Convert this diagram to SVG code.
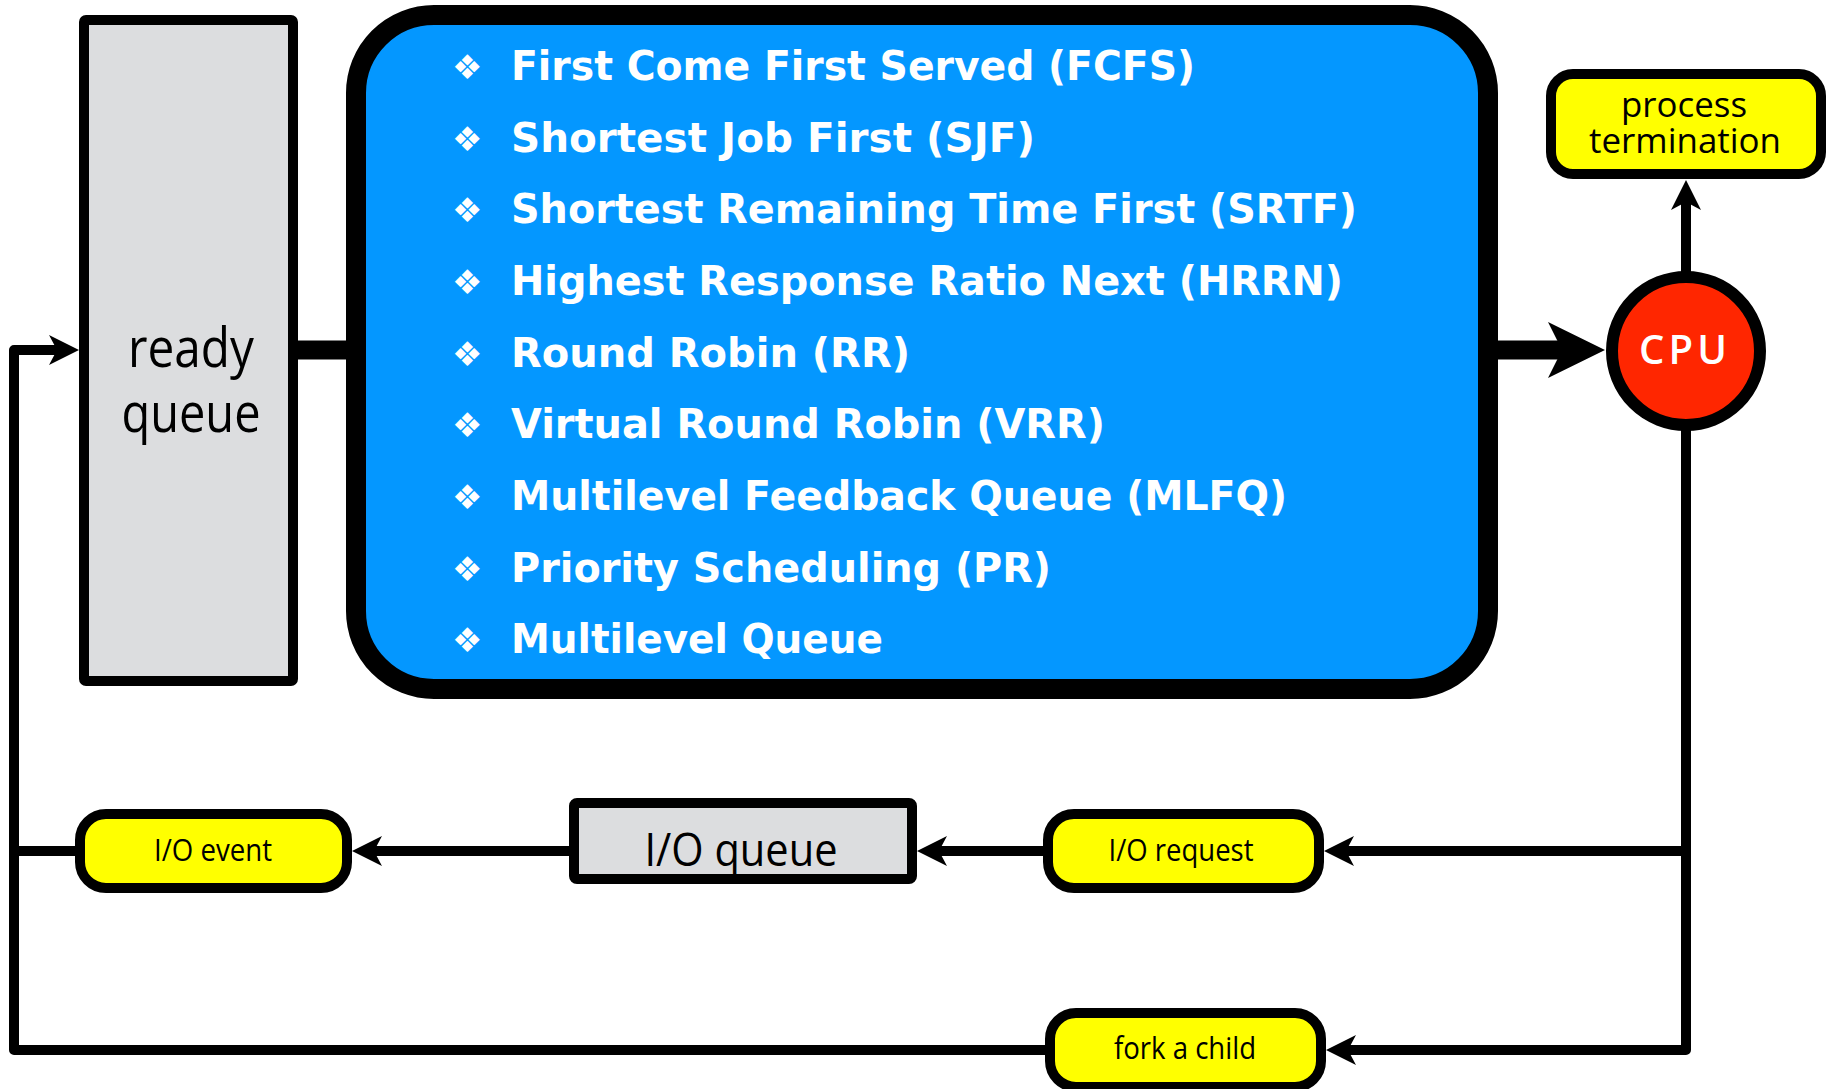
<svg xmlns="http://www.w3.org/2000/svg" width="1829" height="1089" viewBox="0 0 1829 1089">
<style>
.bg{fill:#ffffff}
.gray{fill:#DCDDDF;stroke:#000;stroke-width:10}
.yel{fill:#FFFF00;stroke:#000;stroke-width:10}
.blue{fill:#0497FF;stroke:#000;stroke-width:20}
.cpu{fill:#FF2600;stroke:#000;stroke-width:12}
.lbl{font-family:"Open Sans","DejaVu Sans",sans-serif;fill:#000;text-anchor:middle}
.item{font-family:"DejaVu Sans",sans-serif;font-weight:bold;font-size:40px;fill:#fff}
.bul{font-family:"DejaVu Sans",sans-serif;font-size:34px;fill:#fff}
.cpuT{font-family:"Open Sans","DejaVu Sans",sans-serif;font-weight:600;font-size:40px;fill:#fff;text-anchor:middle}
.ln{fill:none;stroke:#000;stroke-width:10;stroke-linejoin:round}
.thick{fill:none;stroke:#000;stroke-width:19}
</style>
<defs>
<marker id="ah" markerUnits="userSpaceOnUse" viewBox="-9 -16 32 32" markerWidth="32" markerHeight="32" refX="0" refY="0" orient="auto">
<path d="M22,0 L-8,-15 L0,0 L-8,15 Z" fill="#000"/>
</marker>
<marker id="ahBig" markerUnits="userSpaceOnUse" viewBox="-15 -29 59 58" markerWidth="59" markerHeight="58" refX="0" refY="0" orient="auto">
<path d="M43,0 L-14,-28 L0,0 L-14,28 Z" fill="#000"/>
</marker>
</defs>
<rect class="bg" x="0" y="0" width="1829" height="1089"/>

<g id="connectors">
<path class="thick" d="M297,350 H350"/>
<path class="thick" d="M1494,350 H1562" marker-end="url(#ahBig)"/>
<path class="ln" d="M1686,278 V202" marker-end="url(#ah)"/>
<path class="ln" d="M1686,426 V1050 H1348" marker-end="url(#ah)"/>
<path class="ln" d="M1686,851 H1346" marker-end="url(#ah)"/>
<path class="ln" d="M1043,851 H939" marker-end="url(#ah)"/>
<path class="ln" d="M569,851 H374" marker-end="url(#ah)"/>
<path class="ln" d="M75,851 H14"/>
<path class="ln" d="M1045,1050 H14 V350 H57" marker-end="url(#ah)"/>
</g>

<g id="ready-queue">
<rect class="gray" x="84" y="20" width="209" height="661" rx="2"/>
<text class="lbl" x="191" y="367" font-size="54" textLength="126" lengthAdjust="spacingAndGlyphs">ready</text>
<text class="lbl" x="191" y="432" font-size="54" textLength="139" lengthAdjust="spacingAndGlyphs">queue</text>
</g>

<g id="algorithms">
<rect class="blue" x="356" y="15" width="1132" height="674" rx="78"/>
<text class="bul" x="452" y="79">❖</text>
<text class="item" x="511" y="80" textLength="684" lengthAdjust="spacingAndGlyphs">First Come First Served (FCFS)</text>
<text class="bul" x="452" y="151">❖</text>
<text class="item" x="511" y="152" textLength="524" lengthAdjust="spacingAndGlyphs">Shortest Job First (SJF)</text>
<text class="bul" x="452" y="222">❖</text>
<text class="item" x="511" y="223" textLength="846" lengthAdjust="spacingAndGlyphs">Shortest Remaining Time First (SRTF)</text>
<text class="bul" x="452" y="294">❖</text>
<text class="item" x="511" y="295" textLength="832" lengthAdjust="spacingAndGlyphs">Highest Response Ratio Next (HRRN)</text>
<text class="bul" x="452" y="366">❖</text>
<text class="item" x="511" y="367" textLength="399" lengthAdjust="spacingAndGlyphs">Round Robin (RR)</text>
<text class="bul" x="452" y="437">❖</text>
<text class="item" x="511" y="438" textLength="594" lengthAdjust="spacingAndGlyphs">Virtual Round Robin (VRR)</text>
<text class="bul" x="452" y="509">❖</text>
<text class="item" x="511" y="510" textLength="776" lengthAdjust="spacingAndGlyphs">Multilevel Feedback Queue (MLFQ)</text>
<text class="bul" x="452" y="581">❖</text>
<text class="item" x="511" y="582" textLength="540" lengthAdjust="spacingAndGlyphs">Priority Scheduling (PR)</text>
<text class="bul" x="452" y="652">❖</text>
<text class="item" x="511" y="653" textLength="372" lengthAdjust="spacingAndGlyphs">Multilevel Queue</text>
</g>

<g id="cpu">
<circle class="cpu" cx="1686" cy="351" r="74"/>
<text class="cpuT" x="1683" y="364" textLength="88" lengthAdjust="spacing">CPU</text>
</g>

<g id="process-termination">
<rect class="yel" x="1551" y="74" width="270" height="100" rx="22"/>
<text class="lbl" x="1684" y="117" font-size="35" textLength="126" lengthAdjust="spacingAndGlyphs">process</text>
<text class="lbl" x="1685" y="153" font-size="35" textLength="192" lengthAdjust="spacingAndGlyphs">termination</text>
</g>

<g id="io-event">
<rect class="yel" x="80" y="814" width="267" height="74" rx="26"/>
<text class="lbl" x="213" y="861" font-size="31" textLength="118" lengthAdjust="spacingAndGlyphs">I/O event</text>
</g>

<g id="io-queue">
<rect class="gray" x="574" y="803" width="338" height="76" rx="3"/>
<text class="lbl" x="741" y="866" font-size="46" textLength="193" lengthAdjust="spacingAndGlyphs">I/O queue</text>
</g>

<g id="io-request">
<rect class="yel" x="1048" y="814" width="271" height="74" rx="26"/>
<text class="lbl" x="1181" y="861" font-size="31" textLength="145" lengthAdjust="spacingAndGlyphs">I/O request</text>
</g>

<g id="fork-child">
<rect class="yel" x="1050" y="1013" width="271" height="74" rx="26"/>
<text class="lbl" x="1185" y="1059" font-size="31" textLength="142" lengthAdjust="spacingAndGlyphs">fork a child</text>
</g>
</svg>
